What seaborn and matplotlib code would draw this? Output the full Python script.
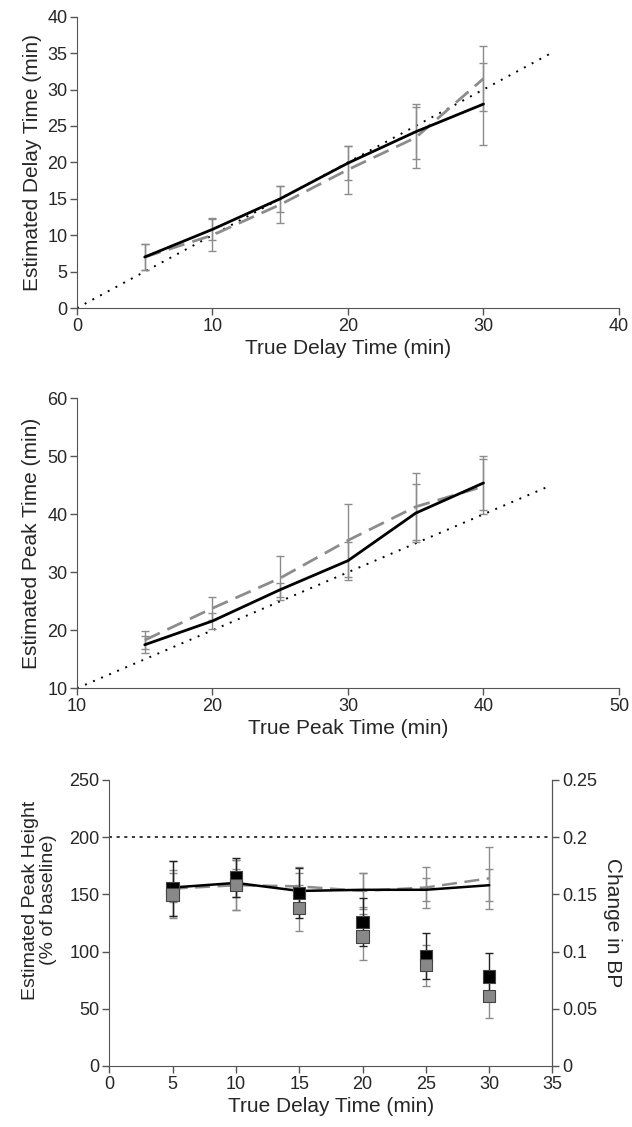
import matplotlib
matplotlib.use("Agg")
import matplotlib.pyplot as plt
import matplotlib.ticker as mticker
import numpy as np
import pandas as pd
import seaborn as sns

# panel 1: delay time
delay_true = [5, 10, 15, 20, 25, 30]
delay_est_a = [7.0, 10.8, 15.0, 19.9, 24.2, 28.0]
delay_err_a = [1.8, 1.5, 1.8, 2.3, 3.8, 5.6]
delay_est_b = [7.0, 10.0, 14.2, 19.0, 23.4, 31.5]
delay_err_b = [1.8, 2.2, 2.5, 3.3, 4.2, 4.5]

# panel 2: peak time
peak_true = [15, 20, 25, 30, 35, 40]
peak_est_a = [17.5, 21.6, 27.0, 32.0, 40.2, 45.4]
peak_err_a = [1.5, 1.4, 1.2, 3.3, 5.0, 4.6]
peak_est_b = [18.3, 23.8, 29.0, 35.5, 41.3, 44.8]
peak_err_b = [1.5, 2.0, 3.8, 6.3, 5.8, 4.7]

# panel 3: peak height (left) and change in BP (right)
height_true = [5, 10, 15, 20, 25, 30]
height_a = [156, 160, 153, 154, 154, 158]
height_err_a = [13, 12, 16, 15, 10, 14]
height_b = [155, 158, 157, 153, 156, 164]
height_err_b = [24, 22, 17, 16, 18, 27]
bp_a = [0.155, 0.165, 0.151, 0.126, 0.096, 0.078]
bp_err_a = [0.024, 0.017, 0.022, 0.021, 0.020, 0.021]
bp_b = [0.150, 0.158, 0.138, 0.113, 0.088, 0.061]
bp_err_b = [0.021, 0.022, 0.020, 0.020, 0.018, 0.019]

sns.set_style("ticks")
plt.rcParams["font.family"] = ["Liberation Sans", "DejaVu Sans"]

TICK_FS = 13
LABEL_FS = 15
GRAY = "#8c8c8c"
DARK = "#222222"
SPINE = "#555555"

fig = plt.figure(figsize=(6.32, 11.27), dpi=100)


def style_axes(ax, right=False):
    for s in ["top", "right"]:
        ax.spines[s].set_visible(False)
    ax.spines["left"].set_color(SPINE)
    ax.spines["bottom"].set_color(SPINE)
    if right:
        ax.spines["right"].set_visible(True)
        ax.spines["right"].set_color(SPINE)
    ax.tick_params(direction="out", length=5, width=1, color=SPINE, labelsize=TICK_FS, pad=2)


def line_panel(ax, x, a, ea, b, eb, ident):
    ax.errorbar(x, b, yerr=eb, fmt="none", ecolor=GRAY, elinewidth=1, capsize=3, zorder=2)
    ax.errorbar(x, a, yerr=ea, fmt="none", ecolor=GRAY, elinewidth=1, capsize=3, zorder=2)
    ax.plot(ident, ident, color="black", lw=1.4, ls=(0, (1, 3.5)), zorder=1)
    sns.lineplot(x=x, y=b, ax=ax, color=GRAY, lw=2, zorder=3)
    ax.lines[-1].set_dashes((6, 3))
    sns.lineplot(x=x, y=a, ax=ax, color="black", lw=2, zorder=4)


# ---- panel 1
ax1 = fig.add_axes([0.1218, 0.7267, 0.8576, 0.2585])
line_panel(ax1, delay_true, delay_est_a, delay_err_a, delay_est_b, delay_err_b, [0, 35])
ax1.set_xlim(0, 40)
ax1.set_ylim(0, 40)
ax1.set_xticks(range(0, 41, 10))
ax1.set_yticks(range(0, 41, 5))
ax1.set_xlabel("True Delay Time (min)", fontsize=LABEL_FS, labelpad=3)
ax1.set_ylabel("Estimated Delay Time (min)", fontsize=LABEL_FS, labelpad=4)
style_axes(ax1)

# ---- panel 2
ax2 = fig.add_axes([0.1218, 0.3893, 0.8576, 0.2573])
line_panel(ax2, peak_true, peak_est_a, peak_err_a, peak_est_b, peak_err_b, [10, 45])
ax2.set_xlim(10, 50)
ax2.set_ylim(10, 60)
ax2.set_xticks(range(10, 51, 10))
ax2.set_yticks(range(10, 61, 10))
ax2.set_xlabel("True Peak Time (min)", fontsize=LABEL_FS, labelpad=3)
ax2.set_ylabel("Estimated Peak Time (min)", fontsize=LABEL_FS, labelpad=4)
style_axes(ax2)

# ---- panel 3
ax3 = fig.add_axes([0.173, 0.0542, 0.7012, 0.2537])
ax3.axhline(200, color="black", lw=1.1, ls=(0, (2, 3)), zorder=1)
ax3.errorbar(height_true, height_b, yerr=height_err_b, fmt="none", ecolor=GRAY,
             elinewidth=1, capsize=3, zorder=2)
ax3.errorbar(height_true, height_a, yerr=height_err_a, fmt="none", ecolor=GRAY,
             elinewidth=1, capsize=3, zorder=2)
sns.lineplot(x=height_true, y=height_b, ax=ax3, color=GRAY, lw=1.8, zorder=3)
ax3.lines[-1].set_dashes((6, 3))
sns.lineplot(x=height_true, y=height_a, ax=ax3, color="black", lw=1.8, zorder=4)
ax3.set_xlim(0, 35)
ax3.set_ylim(0, 250)
ax3.set_xticks(range(0, 36, 5))
ax3.set_yticks(range(0, 251, 50))
ax3.set_xlabel("True Delay Time (min)", fontsize=LABEL_FS, labelpad=3)
ax3.set_ylabel("Estimated Peak Height\n(% of baseline)", fontsize=14, linespacing=1.1)
ax3.yaxis.set_label_coords(-0.118, 0.58)
style_axes(ax3, right=True)

ax4 = ax3.twinx()
ax4.errorbar(height_true, bp_b, yerr=bp_err_b, fmt="none", ecolor=GRAY,
             elinewidth=1, capsize=3, zorder=2)
ax4.errorbar(height_true, bp_a, yerr=bp_err_a, fmt="none", ecolor=DARK,
             elinewidth=1, capsize=3, zorder=2)
bp_df = pd.DataFrame({
    "x": height_true * 2,
    "y": bp_a + bp_b,
    "grp": ["a"] * len(bp_a) + ["b"] * len(bp_b),
})
sns.scatterplot(data=bp_df, x="x", y="y", hue="grp", palette={"a": "black", "b": "#888888"},
                marker="s", s=80, edgecolor="#444444", linewidth=0.8, legend=False,
                ax=ax4, zorder=5)
ax4.set_ylim(0, 0.25)
ax4.set_yticks(np.arange(0, 0.251, 0.05))
ax4.yaxis.set_major_formatter(mticker.FuncFormatter(lambda v, p: f"{v:g}"))
ax4.set_ylabel("Change in BP", fontsize=LABEL_FS, rotation=270, labelpad=18)
ax4.set_xlabel("")
for s in ["top", "left", "bottom"]:
    ax4.spines[s].set_visible(False)
ax4.spines["right"].set_color(SPINE)
ax4.tick_params(direction="out", length=5, width=1, color=SPINE, labelsize=TICK_FS, pad=2)

fig.savefig("out.png", dpi=100)
